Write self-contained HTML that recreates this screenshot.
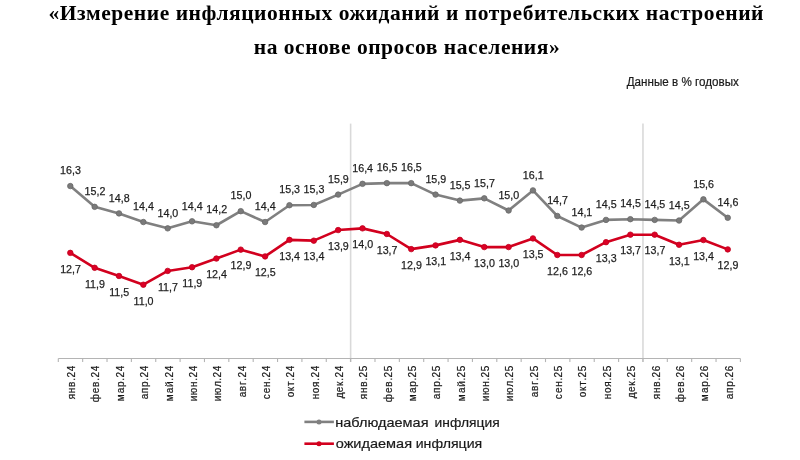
<!DOCTYPE html>
<html lang="ru"><head><meta charset="utf-8"><title>Измерение инфляционных ожиданий и потребительских настроений</title>
<style>
html,body{margin:0;padding:0;background:#fff;}
body{width:800px;height:460px;overflow:hidden;position:relative;}
svg{position:absolute;left:0;top:0;display:block;}
svg text{font-family:"Liberation Sans",sans-serif;fill:#262626;white-space:pre;}
svg text.ttl{font-family:"Liberation Serif",serif;font-weight:bold;fill:#000;}
svg text.d{fill:#1e1e1e;stroke:#1e1e1e;stroke-width:0.25px;}
svg text.u{fill:#1a1a1a;stroke:#1a1a1a;stroke-width:0.2px;}
svg text.c{fill:#1a1a1a;stroke:#1a1a1a;stroke-width:0.2px;}
svg text.l{fill:#1a1a1a;stroke:#1a1a1a;stroke-width:0.2px;}
</style></head><body>
<svg width="800" height="460" viewBox="0 0 800 460">
<text x="48.52" y="19.60" font-size="21.5" textLength="714.97" lengthAdjust="spacing" class="ttl">«Измерение инфляционных ожиданий и потребительских настроений</text>
<text x="253.76" y="53.70" font-size="21.5" textLength="305.93" lengthAdjust="spacing" class="ttl">на основе опросов населения»</text>
<text x="626.74" y="86.40" font-size="12.3" textLength="112.16" lengthAdjust="spacingAndGlyphs" class="u">Данные в % годовых</text>
<line x1="350.63" y1="123.6" x2="350.63" y2="362.0" stroke="#d9d9d9" stroke-width="1.6"/>
<line x1="642.96" y1="123.6" x2="642.96" y2="362.0" stroke="#d9d9d9" stroke-width="1.6"/>
<line x1="58.3" y1="358.5" x2="740.4" y2="358.5" stroke="#b4b4b4" stroke-width="1.1"/>
<line x1="58.30" y1="358.5" x2="58.30" y2="362.1" stroke="#b4b4b4" stroke-width="1.1"/>
<line x1="82.66" y1="358.5" x2="82.66" y2="362.1" stroke="#b4b4b4" stroke-width="1.1"/>
<line x1="107.02" y1="358.5" x2="107.02" y2="362.1" stroke="#b4b4b4" stroke-width="1.1"/>
<line x1="131.38" y1="358.5" x2="131.38" y2="362.1" stroke="#b4b4b4" stroke-width="1.1"/>
<line x1="155.74" y1="358.5" x2="155.74" y2="362.1" stroke="#b4b4b4" stroke-width="1.1"/>
<line x1="180.10" y1="358.5" x2="180.10" y2="362.1" stroke="#b4b4b4" stroke-width="1.1"/>
<line x1="204.46" y1="358.5" x2="204.46" y2="362.1" stroke="#b4b4b4" stroke-width="1.1"/>
<line x1="228.82" y1="358.5" x2="228.82" y2="362.1" stroke="#b4b4b4" stroke-width="1.1"/>
<line x1="253.19" y1="358.5" x2="253.19" y2="362.1" stroke="#b4b4b4" stroke-width="1.1"/>
<line x1="277.55" y1="358.5" x2="277.55" y2="362.1" stroke="#b4b4b4" stroke-width="1.1"/>
<line x1="301.91" y1="358.5" x2="301.91" y2="362.1" stroke="#b4b4b4" stroke-width="1.1"/>
<line x1="326.27" y1="358.5" x2="326.27" y2="362.1" stroke="#b4b4b4" stroke-width="1.1"/>
<line x1="350.63" y1="358.5" x2="350.63" y2="362.1" stroke="#b4b4b4" stroke-width="1.1"/>
<line x1="374.99" y1="358.5" x2="374.99" y2="362.1" stroke="#b4b4b4" stroke-width="1.1"/>
<line x1="399.35" y1="358.5" x2="399.35" y2="362.1" stroke="#b4b4b4" stroke-width="1.1"/>
<line x1="423.71" y1="358.5" x2="423.71" y2="362.1" stroke="#b4b4b4" stroke-width="1.1"/>
<line x1="448.07" y1="358.5" x2="448.07" y2="362.1" stroke="#b4b4b4" stroke-width="1.1"/>
<line x1="472.43" y1="358.5" x2="472.43" y2="362.1" stroke="#b4b4b4" stroke-width="1.1"/>
<line x1="496.79" y1="358.5" x2="496.79" y2="362.1" stroke="#b4b4b4" stroke-width="1.1"/>
<line x1="521.15" y1="358.5" x2="521.15" y2="362.1" stroke="#b4b4b4" stroke-width="1.1"/>
<line x1="545.51" y1="358.5" x2="545.51" y2="362.1" stroke="#b4b4b4" stroke-width="1.1"/>
<line x1="569.88" y1="358.5" x2="569.88" y2="362.1" stroke="#b4b4b4" stroke-width="1.1"/>
<line x1="594.24" y1="358.5" x2="594.24" y2="362.1" stroke="#b4b4b4" stroke-width="1.1"/>
<line x1="618.60" y1="358.5" x2="618.60" y2="362.1" stroke="#b4b4b4" stroke-width="1.1"/>
<line x1="642.96" y1="358.5" x2="642.96" y2="362.1" stroke="#b4b4b4" stroke-width="1.1"/>
<line x1="667.32" y1="358.5" x2="667.32" y2="362.1" stroke="#b4b4b4" stroke-width="1.1"/>
<line x1="691.68" y1="358.5" x2="691.68" y2="362.1" stroke="#b4b4b4" stroke-width="1.1"/>
<line x1="716.04" y1="358.5" x2="716.04" y2="362.1" stroke="#b4b4b4" stroke-width="1.1"/>
<line x1="740.40" y1="358.5" x2="740.40" y2="362.1" stroke="#b4b4b4" stroke-width="1.1"/>
<polyline points="70.30,186.07 94.65,206.83 119.00,213.40 143.35,222.03 167.70,228.36 192.05,221.33 216.40,225.25 240.75,211.16 265.10,222.03 289.45,205.22 313.80,204.94 338.15,194.60 362.50,183.83 386.85,183.13 411.20,183.13 435.55,194.60 459.90,200.61 484.25,198.34 508.60,210.53 532.95,190.40 557.30,215.99 581.65,227.55 606.00,219.90 630.35,219.20 654.70,219.90 679.05,220.53 703.40,199.35 727.75,217.77" fill="none" stroke="#808080" stroke-width="2.6" stroke-linejoin="round"/>
<circle cx="70.30" cy="186.07" r="2.75" fill="#7a7a7a" stroke="#686868" stroke-width="0.8"/>
<circle cx="94.65" cy="206.83" r="2.75" fill="#7a7a7a" stroke="#686868" stroke-width="0.8"/>
<circle cx="119.00" cy="213.40" r="2.75" fill="#7a7a7a" stroke="#686868" stroke-width="0.8"/>
<circle cx="143.35" cy="222.03" r="2.75" fill="#7a7a7a" stroke="#686868" stroke-width="0.8"/>
<circle cx="167.70" cy="228.36" r="2.75" fill="#7a7a7a" stroke="#686868" stroke-width="0.8"/>
<circle cx="192.05" cy="221.33" r="2.75" fill="#7a7a7a" stroke="#686868" stroke-width="0.8"/>
<circle cx="216.40" cy="225.25" r="2.75" fill="#7a7a7a" stroke="#686868" stroke-width="0.8"/>
<circle cx="240.75" cy="211.16" r="2.75" fill="#7a7a7a" stroke="#686868" stroke-width="0.8"/>
<circle cx="265.10" cy="222.03" r="2.75" fill="#7a7a7a" stroke="#686868" stroke-width="0.8"/>
<circle cx="289.45" cy="205.22" r="2.75" fill="#7a7a7a" stroke="#686868" stroke-width="0.8"/>
<circle cx="313.80" cy="204.94" r="2.75" fill="#7a7a7a" stroke="#686868" stroke-width="0.8"/>
<circle cx="338.15" cy="194.60" r="2.75" fill="#7a7a7a" stroke="#686868" stroke-width="0.8"/>
<circle cx="362.50" cy="183.83" r="2.75" fill="#7a7a7a" stroke="#686868" stroke-width="0.8"/>
<circle cx="386.85" cy="183.13" r="2.75" fill="#7a7a7a" stroke="#686868" stroke-width="0.8"/>
<circle cx="411.20" cy="183.13" r="2.75" fill="#7a7a7a" stroke="#686868" stroke-width="0.8"/>
<circle cx="435.55" cy="194.60" r="2.75" fill="#7a7a7a" stroke="#686868" stroke-width="0.8"/>
<circle cx="459.90" cy="200.61" r="2.75" fill="#7a7a7a" stroke="#686868" stroke-width="0.8"/>
<circle cx="484.25" cy="198.34" r="2.75" fill="#7a7a7a" stroke="#686868" stroke-width="0.8"/>
<circle cx="508.60" cy="210.53" r="2.75" fill="#7a7a7a" stroke="#686868" stroke-width="0.8"/>
<circle cx="532.95" cy="190.40" r="2.75" fill="#7a7a7a" stroke="#686868" stroke-width="0.8"/>
<circle cx="557.30" cy="215.99" r="2.75" fill="#7a7a7a" stroke="#686868" stroke-width="0.8"/>
<circle cx="581.65" cy="227.55" r="2.75" fill="#7a7a7a" stroke="#686868" stroke-width="0.8"/>
<circle cx="606.00" cy="219.90" r="2.75" fill="#7a7a7a" stroke="#686868" stroke-width="0.8"/>
<circle cx="630.35" cy="219.20" r="2.75" fill="#7a7a7a" stroke="#686868" stroke-width="0.8"/>
<circle cx="654.70" cy="219.90" r="2.75" fill="#7a7a7a" stroke="#686868" stroke-width="0.8"/>
<circle cx="679.05" cy="220.53" r="2.75" fill="#7a7a7a" stroke="#686868" stroke-width="0.8"/>
<circle cx="703.40" cy="199.35" r="2.75" fill="#7a7a7a" stroke="#686868" stroke-width="0.8"/>
<circle cx="727.75" cy="217.77" r="2.75" fill="#7a7a7a" stroke="#686868" stroke-width="0.8"/>
<text x="60.11" y="174.27" font-size="11.5" textLength="20.82" lengthAdjust="spacingAndGlyphs" class="d">16,3</text>
<text x="84.52" y="195.03" font-size="11.5" textLength="20.82" lengthAdjust="spacingAndGlyphs" class="d">15,2</text>
<text x="108.81" y="201.60" font-size="11.5" textLength="20.82" lengthAdjust="spacingAndGlyphs" class="d">14,8</text>
<text x="133.11" y="210.23" font-size="11.5" textLength="20.82" lengthAdjust="spacingAndGlyphs" class="d">14,4</text>
<text x="157.49" y="216.56" font-size="11.5" textLength="20.82" lengthAdjust="spacingAndGlyphs" class="d">14,0</text>
<text x="181.81" y="209.53" font-size="11.5" textLength="20.82" lengthAdjust="spacingAndGlyphs" class="d">14,4</text>
<text x="206.27" y="213.45" font-size="11.5" textLength="20.82" lengthAdjust="spacingAndGlyphs" class="d">14,2</text>
<text x="230.54" y="199.36" font-size="11.5" textLength="20.82" lengthAdjust="spacingAndGlyphs" class="d">15,0</text>
<text x="254.86" y="210.23" font-size="11.5" textLength="20.82" lengthAdjust="spacingAndGlyphs" class="d">14,4</text>
<text x="279.26" y="193.42" font-size="11.5" textLength="20.82" lengthAdjust="spacingAndGlyphs" class="d">15,3</text>
<text x="303.61" y="193.14" font-size="11.5" textLength="20.82" lengthAdjust="spacingAndGlyphs" class="d">15,3</text>
<text x="327.99" y="182.80" font-size="11.5" textLength="20.82" lengthAdjust="spacingAndGlyphs" class="d">15,9</text>
<text x="352.26" y="172.03" font-size="11.5" textLength="20.82" lengthAdjust="spacingAndGlyphs" class="d">16,4</text>
<text x="376.66" y="171.33" font-size="11.5" textLength="20.82" lengthAdjust="spacingAndGlyphs" class="d">16,5</text>
<text x="401.01" y="171.33" font-size="11.5" textLength="20.82" lengthAdjust="spacingAndGlyphs" class="d">16,5</text>
<text x="425.39" y="182.80" font-size="11.5" textLength="20.82" lengthAdjust="spacingAndGlyphs" class="d">15,9</text>
<text x="449.71" y="188.81" font-size="11.5" textLength="20.82" lengthAdjust="spacingAndGlyphs" class="d">15,5</text>
<text x="474.12" y="186.54" font-size="11.5" textLength="20.82" lengthAdjust="spacingAndGlyphs" class="d">15,7</text>
<text x="498.39" y="198.73" font-size="11.5" textLength="20.82" lengthAdjust="spacingAndGlyphs" class="d">15,0</text>
<text x="522.79" y="178.60" font-size="11.5" textLength="20.82" lengthAdjust="spacingAndGlyphs" class="d">16,1</text>
<text x="547.17" y="204.19" font-size="11.5" textLength="20.82" lengthAdjust="spacingAndGlyphs" class="d">14,7</text>
<text x="571.49" y="215.75" font-size="11.5" textLength="20.82" lengthAdjust="spacingAndGlyphs" class="d">14,1</text>
<text x="595.81" y="208.10" font-size="11.5" textLength="20.82" lengthAdjust="spacingAndGlyphs" class="d">14,5</text>
<text x="620.16" y="207.40" font-size="11.5" textLength="20.82" lengthAdjust="spacingAndGlyphs" class="d">14,5</text>
<text x="644.51" y="208.10" font-size="11.5" textLength="20.82" lengthAdjust="spacingAndGlyphs" class="d">14,5</text>
<text x="668.86" y="208.73" font-size="11.5" textLength="20.82" lengthAdjust="spacingAndGlyphs" class="d">14,5</text>
<text x="693.21" y="187.55" font-size="11.5" textLength="20.82" lengthAdjust="spacingAndGlyphs" class="d">15,6</text>
<text x="717.56" y="205.97" font-size="11.5" textLength="20.82" lengthAdjust="spacingAndGlyphs" class="d">14,6</text>
<polyline points="70.30,252.86 94.65,267.81 119.00,275.99 143.35,284.73 167.70,270.92 192.05,267.22 216.40,258.55 240.75,249.64 265.10,256.42 289.45,239.86 313.80,240.66 338.15,230.07 362.50,228.36 386.85,233.98 411.20,249.12 435.55,245.38 459.90,239.86 484.25,247.09 508.60,247.09 532.95,238.42 557.30,254.99 581.65,254.99 606.00,242.16 630.35,234.68 654.70,234.68 679.05,244.78 703.40,240.03 727.75,249.40" fill="none" stroke="#d2001e" stroke-width="2.6" stroke-linejoin="round"/>
<circle cx="70.30" cy="252.86" r="2.75" fill="#dc0026" stroke="#c0001c" stroke-width="0.8"/>
<circle cx="94.65" cy="267.81" r="2.75" fill="#dc0026" stroke="#c0001c" stroke-width="0.8"/>
<circle cx="119.00" cy="275.99" r="2.75" fill="#dc0026" stroke="#c0001c" stroke-width="0.8"/>
<circle cx="143.35" cy="284.73" r="2.75" fill="#dc0026" stroke="#c0001c" stroke-width="0.8"/>
<circle cx="167.70" cy="270.92" r="2.75" fill="#dc0026" stroke="#c0001c" stroke-width="0.8"/>
<circle cx="192.05" cy="267.22" r="2.75" fill="#dc0026" stroke="#c0001c" stroke-width="0.8"/>
<circle cx="216.40" cy="258.55" r="2.75" fill="#dc0026" stroke="#c0001c" stroke-width="0.8"/>
<circle cx="240.75" cy="249.64" r="2.75" fill="#dc0026" stroke="#c0001c" stroke-width="0.8"/>
<circle cx="265.10" cy="256.42" r="2.75" fill="#dc0026" stroke="#c0001c" stroke-width="0.8"/>
<circle cx="289.45" cy="239.86" r="2.75" fill="#dc0026" stroke="#c0001c" stroke-width="0.8"/>
<circle cx="313.80" cy="240.66" r="2.75" fill="#dc0026" stroke="#c0001c" stroke-width="0.8"/>
<circle cx="338.15" cy="230.07" r="2.75" fill="#dc0026" stroke="#c0001c" stroke-width="0.8"/>
<circle cx="362.50" cy="228.36" r="2.75" fill="#dc0026" stroke="#c0001c" stroke-width="0.8"/>
<circle cx="386.85" cy="233.98" r="2.75" fill="#dc0026" stroke="#c0001c" stroke-width="0.8"/>
<circle cx="411.20" cy="249.12" r="2.75" fill="#dc0026" stroke="#c0001c" stroke-width="0.8"/>
<circle cx="435.55" cy="245.38" r="2.75" fill="#dc0026" stroke="#c0001c" stroke-width="0.8"/>
<circle cx="459.90" cy="239.86" r="2.75" fill="#dc0026" stroke="#c0001c" stroke-width="0.8"/>
<circle cx="484.25" cy="247.09" r="2.75" fill="#dc0026" stroke="#c0001c" stroke-width="0.8"/>
<circle cx="508.60" cy="247.09" r="2.75" fill="#dc0026" stroke="#c0001c" stroke-width="0.8"/>
<circle cx="532.95" cy="238.42" r="2.75" fill="#dc0026" stroke="#c0001c" stroke-width="0.8"/>
<circle cx="557.30" cy="254.99" r="2.75" fill="#dc0026" stroke="#c0001c" stroke-width="0.8"/>
<circle cx="581.65" cy="254.99" r="2.75" fill="#dc0026" stroke="#c0001c" stroke-width="0.8"/>
<circle cx="606.00" cy="242.16" r="2.75" fill="#dc0026" stroke="#c0001c" stroke-width="0.8"/>
<circle cx="630.35" cy="234.68" r="2.75" fill="#dc0026" stroke="#c0001c" stroke-width="0.8"/>
<circle cx="654.70" cy="234.68" r="2.75" fill="#dc0026" stroke="#c0001c" stroke-width="0.8"/>
<circle cx="679.05" cy="244.78" r="2.75" fill="#dc0026" stroke="#c0001c" stroke-width="0.8"/>
<circle cx="703.40" cy="240.03" r="2.75" fill="#dc0026" stroke="#c0001c" stroke-width="0.8"/>
<circle cx="727.75" cy="249.40" r="2.75" fill="#dc0026" stroke="#c0001c" stroke-width="0.8"/>
<text x="60.17" y="272.66" font-size="11.5" textLength="20.82" lengthAdjust="spacingAndGlyphs" class="d">12,7</text>
<text x="84.89" y="287.61" font-size="11.5" textLength="20.02" lengthAdjust="spacingAndGlyphs" class="d">11,9</text>
<text x="109.21" y="295.79" font-size="11.5" textLength="20.02" lengthAdjust="spacingAndGlyphs" class="d">11,5</text>
<text x="133.54" y="304.53" font-size="11.5" textLength="20.02" lengthAdjust="spacingAndGlyphs" class="d">11,0</text>
<text x="157.97" y="290.72" font-size="11.5" textLength="20.02" lengthAdjust="spacingAndGlyphs" class="d">11,7</text>
<text x="182.29" y="287.02" font-size="11.5" textLength="20.02" lengthAdjust="spacingAndGlyphs" class="d">11,9</text>
<text x="206.16" y="278.35" font-size="11.5" textLength="20.82" lengthAdjust="spacingAndGlyphs" class="d">12,4</text>
<text x="230.59" y="269.44" font-size="11.5" textLength="20.82" lengthAdjust="spacingAndGlyphs" class="d">12,9</text>
<text x="254.91" y="276.22" font-size="11.5" textLength="20.82" lengthAdjust="spacingAndGlyphs" class="d">12,5</text>
<text x="279.21" y="259.66" font-size="11.5" textLength="20.82" lengthAdjust="spacingAndGlyphs" class="d">13,4</text>
<text x="303.56" y="260.46" font-size="11.5" textLength="20.82" lengthAdjust="spacingAndGlyphs" class="d">13,4</text>
<text x="327.99" y="249.87" font-size="11.5" textLength="20.82" lengthAdjust="spacingAndGlyphs" class="d">13,9</text>
<text x="352.29" y="248.16" font-size="11.5" textLength="20.82" lengthAdjust="spacingAndGlyphs" class="d">14,0</text>
<text x="376.72" y="253.78" font-size="11.5" textLength="20.82" lengthAdjust="spacingAndGlyphs" class="d">13,7</text>
<text x="401.04" y="268.92" font-size="11.5" textLength="20.82" lengthAdjust="spacingAndGlyphs" class="d">12,9</text>
<text x="425.39" y="265.18" font-size="11.5" textLength="20.82" lengthAdjust="spacingAndGlyphs" class="d">13,1</text>
<text x="449.66" y="259.66" font-size="11.5" textLength="20.82" lengthAdjust="spacingAndGlyphs" class="d">13,4</text>
<text x="474.04" y="266.89" font-size="11.5" textLength="20.82" lengthAdjust="spacingAndGlyphs" class="d">13,0</text>
<text x="498.39" y="266.89" font-size="11.5" textLength="20.82" lengthAdjust="spacingAndGlyphs" class="d">13,0</text>
<text x="522.76" y="258.22" font-size="11.5" textLength="20.82" lengthAdjust="spacingAndGlyphs" class="d">13,5</text>
<text x="547.11" y="274.79" font-size="11.5" textLength="20.82" lengthAdjust="spacingAndGlyphs" class="d">12,6</text>
<text x="571.46" y="274.79" font-size="11.5" textLength="20.82" lengthAdjust="spacingAndGlyphs" class="d">12,6</text>
<text x="595.81" y="261.96" font-size="11.5" textLength="20.82" lengthAdjust="spacingAndGlyphs" class="d">13,3</text>
<text x="620.22" y="254.48" font-size="11.5" textLength="20.82" lengthAdjust="spacingAndGlyphs" class="d">13,7</text>
<text x="644.57" y="254.48" font-size="11.5" textLength="20.82" lengthAdjust="spacingAndGlyphs" class="d">13,7</text>
<text x="668.89" y="264.58" font-size="11.5" textLength="20.82" lengthAdjust="spacingAndGlyphs" class="d">13,1</text>
<text x="693.16" y="259.83" font-size="11.5" textLength="20.82" lengthAdjust="spacingAndGlyphs" class="d">13,4</text>
<text x="717.59" y="269.20" font-size="11.5" textLength="20.82" lengthAdjust="spacingAndGlyphs" class="d">12,9</text>
<text transform="translate(75.10,399.35) rotate(-90)" x="0.0 6.22 12.44 18.66 21.88 28.1" y="0" font-size="10" class="c">янв.24</text>
<text transform="translate(99.45,402.35) rotate(-90)" x="0.0 9.22 15.44 21.66 24.88 31.1" y="0" font-size="10" class="c">фев.24</text>
<text transform="translate(123.80,401.35) rotate(-90)" x="0.0 8.22 14.44 20.66 23.88 30.1" y="0" font-size="10" class="c">мар.24</text>
<text transform="translate(148.15,399.35) rotate(-90)" x="0.0 6.22 12.44 18.66 21.88 28.1" y="0" font-size="10" class="c">апр.24</text>
<text transform="translate(172.50,401.35) rotate(-90)" x="0.0 8.22 14.44 20.66 23.88 30.1" y="0" font-size="10" class="c">май.24</text>
<text transform="translate(196.85,401.35) rotate(-90)" x="0.0 6.22 14.44 20.66 23.88 30.1" y="0" font-size="10" class="c">июн.24</text>
<text transform="translate(221.20,401.35) rotate(-90)" x="0.0 6.22 14.44 20.66 23.88 30.1" y="0" font-size="10" class="c">июл.24</text>
<text transform="translate(245.55,397.35) rotate(-90)" x="0.0 6.22 12.44 16.66 19.88 26.1" y="0" font-size="10" class="c">авг.24</text>
<text transform="translate(269.90,399.35) rotate(-90)" x="0.0 6.22 12.44 18.66 21.88 28.1" y="0" font-size="10" class="c">сен.24</text>
<text transform="translate(294.25,397.35) rotate(-90)" x="0.0 6.22 11.44 16.66 19.88 26.1" y="0" font-size="10" class="c">окт.24</text>
<text transform="translate(318.60,399.35) rotate(-90)" x="0.0 6.22 12.44 18.66 21.88 28.1" y="0" font-size="10" class="c">ноя.24</text>
<text transform="translate(342.95,398.35) rotate(-90)" x="0.0 6.22 12.44 17.66 20.88 27.1" y="0" font-size="10" class="c">дек.24</text>
<text transform="translate(367.30,399.25) rotate(-90)" x="0.0 6.22 12.44 18.66 21.88 28.1" y="0" font-size="10" class="c">янв.25</text>
<text transform="translate(391.65,402.25) rotate(-90)" x="0.0 9.22 15.44 21.66 24.88 31.1" y="0" font-size="10" class="c">фев.25</text>
<text transform="translate(416.00,401.25) rotate(-90)" x="0.0 8.22 14.44 20.66 23.88 30.1" y="0" font-size="10" class="c">мар.25</text>
<text transform="translate(440.35,399.25) rotate(-90)" x="0.0 6.22 12.44 18.66 21.88 28.1" y="0" font-size="10" class="c">апр.25</text>
<text transform="translate(464.70,401.25) rotate(-90)" x="0.0 8.22 14.44 20.66 23.88 30.1" y="0" font-size="10" class="c">май.25</text>
<text transform="translate(489.05,401.25) rotate(-90)" x="0.0 6.22 14.44 20.66 23.88 30.1" y="0" font-size="10" class="c">июн.25</text>
<text transform="translate(513.40,401.25) rotate(-90)" x="0.0 6.22 14.44 20.66 23.88 30.1" y="0" font-size="10" class="c">июл.25</text>
<text transform="translate(537.75,397.25) rotate(-90)" x="0.0 6.22 12.44 16.66 19.88 26.1" y="0" font-size="10" class="c">авг.25</text>
<text transform="translate(562.10,399.25) rotate(-90)" x="0.0 6.22 12.44 18.66 21.88 28.1" y="0" font-size="10" class="c">сен.25</text>
<text transform="translate(586.45,397.25) rotate(-90)" x="0.0 6.22 11.44 16.66 19.88 26.1" y="0" font-size="10" class="c">окт.25</text>
<text transform="translate(610.80,399.25) rotate(-90)" x="0.0 6.22 12.44 18.66 21.88 28.1" y="0" font-size="10" class="c">ноя.25</text>
<text transform="translate(635.15,398.25) rotate(-90)" x="0.0 6.22 12.44 17.66 20.88 27.1" y="0" font-size="10" class="c">дек.25</text>
<text transform="translate(659.50,399.25) rotate(-90)" x="0.0 6.22 12.44 18.66 21.88 28.1" y="0" font-size="10" class="c">янв.26</text>
<text transform="translate(683.85,402.25) rotate(-90)" x="0.0 9.22 15.44 21.66 24.88 31.1" y="0" font-size="10" class="c">фев.26</text>
<text transform="translate(708.20,401.25) rotate(-90)" x="0.0 8.22 14.44 20.66 23.88 30.1" y="0" font-size="10" class="c">мар.26</text>
<text transform="translate(732.55,399.25) rotate(-90)" x="0.0 6.22 12.44 18.66 21.88 28.1" y="0" font-size="10" class="c">апр.26</text>
<line x1="304.4" y1="421.9" x2="333.9" y2="421.9" stroke="#808080" stroke-width="2.6"/>
<circle cx="319" cy="421.9" r="2.5" fill="#808080"/>
<text y="426.60" font-size="13.3" class="l"><tspan x="335.29" textLength="93.21" lengthAdjust="spacingAndGlyphs">наблюдаемая</tspan> <tspan x="434.63" textLength="65.01" lengthAdjust="spacingAndGlyphs">инфляция</tspan></text>
<line x1="304.4" y1="443.7" x2="333.9" y2="443.7" stroke="#d2001e" stroke-width="2.6"/>
<circle cx="319" cy="443.7" r="2.5" fill="#d2001e"/>
<text y="448.30" font-size="13.3" class="l"><tspan x="335.72" textLength="76.28" lengthAdjust="spacingAndGlyphs">ожидаемая</tspan> <tspan x="415.71" textLength="66.45" lengthAdjust="spacingAndGlyphs">инфляция</tspan></text>
</svg>
</body></html>
